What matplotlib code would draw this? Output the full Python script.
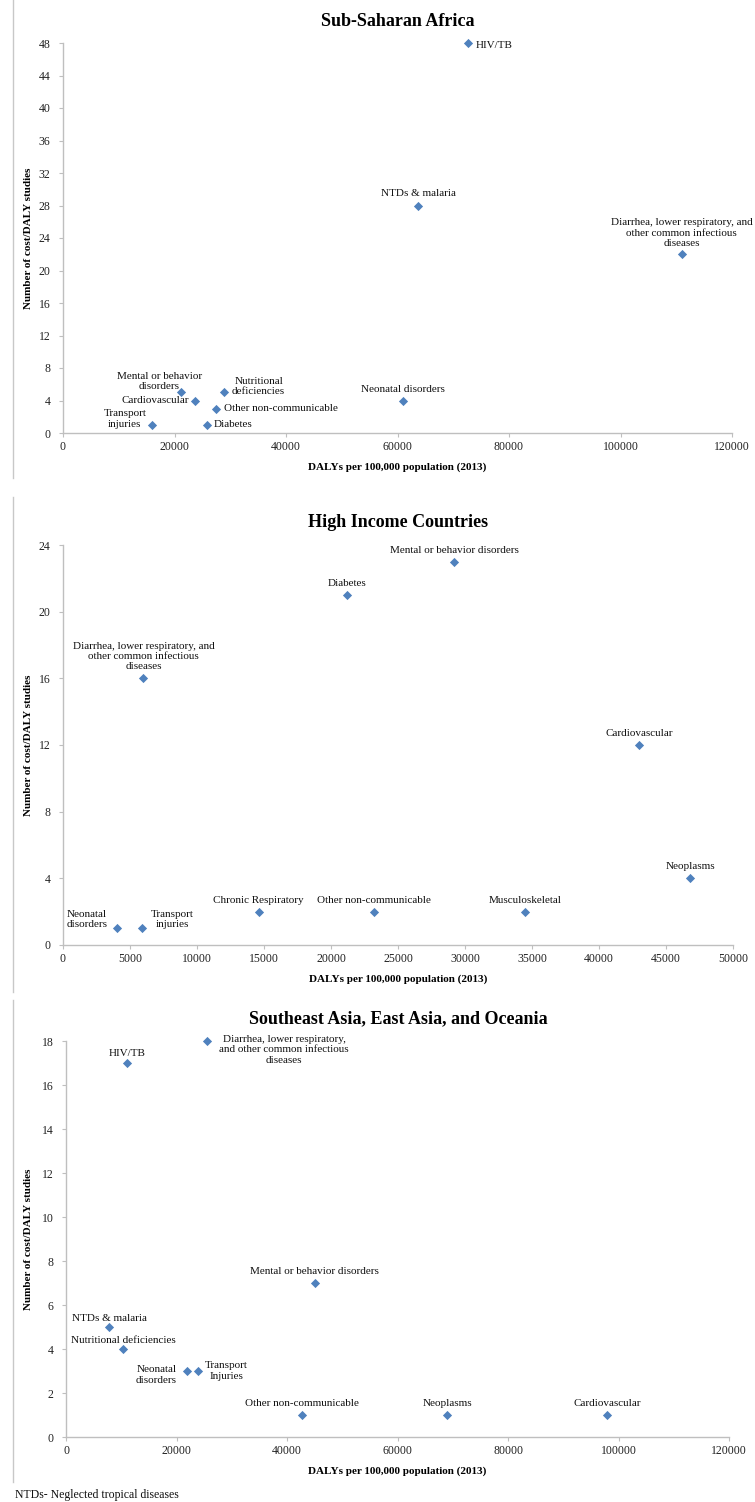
import matplotlib
matplotlib.use("Agg")
import matplotlib.pyplot as plt
from matplotlib.lines import Line2D
from matplotlib.ticker import MultipleLocator, FuncFormatter

plt.rcParams['font.family'] = ['Liberation Serif', 'DejaVu Serif']

# Sub-Saharan Africa
ssa_labels = ["HIV/TB", "NTDs & malaria",
              "Diarrhea, lower respiratory, and\nother common infectious\ndiseases",
              "Neonatal disorders", "Mental or behavior\ndisorders", "Nutritional\ndeficiencies",
              "Cardiovascular", "Other non-communicable", "Transport\ninjuries", "Diabetes"]
ssa_daly = [72600, 63700, 111000, 61000, 21200, 28900, 23700, 27400, 16000, 25900]
ssa_studies = [48, 28, 22, 4, 5, 5, 4, 3, 1, 1]

# High income countries
hic_labels = ["Mental or behavior disorders", "Diabetes",
              "Diarrhea, lower respiratory, and\nother common infectious\ndiseases",
              "Cardiovascular", "Neoplasms", "Chronic Respiratory", "Other non-communicable",
              "Musculoskeletal", "Neonatal\ndisorders", "Transport\ninjuries"]
hic_daly = [29200, 21200, 6000, 43000, 46800, 14600, 23200, 34500, 4000, 5900]
hic_studies = [23, 21, 16, 12, 4, 2, 2, 2, 1, 1]

# Southeast Asia, East Asia, and Oceania
sea_labels = ["HIV/TB", "Diarrhea, lower respiratory,\nand other common infectious\ndiseases",
              "Mental or behavior disorders", "NTDs & malaria", "Nutritional deficiencies",
              "Neonatal\ndisorders", "Transport\nInjuries", "Other non-communicable",
              "Neoplasms", "Cardiovascular"]
sea_daly = [11000, 25600, 45000, 7800, 10300, 21900, 23900, 42700, 69000, 98000]
sea_studies = [17, 18, 7, 5, 4, 3, 3, 1, 1, 1]

# label placement: (dx px, dy px, ha, va)
above = (0, 7, 'center', 'bottom')
ssa_place = [(8, -3, 'left', 'center'), above, (0, 6, 'center', 'bottom'), above,
             (-22, 1, 'center', 'bottom'), (8, 6, 'left', 'center'), (-6, 0, 'right', 'center'),
             (8, 0, 'left', 'center'), (-6, 6, 'right', 'center'), (6, 0, 'left', 'center')]
hic_place = [above] * 8 + [(-9, 9, 'right', 'center'), (9, 9, 'left', 'center')]
sea_place = [(0, 5, 'center', 'bottom'), (12, 6, 'left', 'top'), above,
             (0, 4, 'center', 'bottom'), (0, 4, 'center', 'bottom'),
             (-10, -4, 'right', 'center'), (7, 0, 'left', 'center'), above, above, above]

W, H = 755, 1502
fig = plt.figure(figsize=(W / 100, H / 100), dpi=100)
blue = '#4F81BD'
grey = '#BFBFBF'


def panel(box, title, title_y, xs, ys, labels, place, xmax, xstep, ymax, ystep):
    left, right, top, bottom = box
    ax = fig.add_axes([left / W, 1 - bottom / H, (right - left) / W, (bottom - top) / H])
    ax.scatter(xs, ys, marker='D', s=22, color=blue, linewidths=0, clip_on=False, zorder=3)
    for x, y, lab, (dx, dy, ha, va) in zip(xs, ys, labels, place):
        ax.annotate(lab, (x, y), xytext=(dx, dy), textcoords='offset pixels',
                    ha=ha, va=va, multialignment='center', fontsize=8, color='#111111')
    ax.set_xlim(0, xmax)
    ax.set_ylim(0, ymax)
    ax.xaxis.set_major_locator(MultipleLocator(xstep))
    ax.yaxis.set_major_locator(MultipleLocator(ystep))
    ax.xaxis.set_major_formatter(FuncFormatter(lambda v, p: f"{int(v)}"))
    for s in ['top', 'right']:
        ax.spines[s].set_visible(False)
    for s in ['left', 'bottom']:
        ax.spines[s].set_color(grey)
        ax.spines[s].set_linewidth(1)
    ax.tick_params(axis='x', length=3, width=0.8, color=grey, pad=3, labelsize=8.5, labelcolor='#222222')
    ax.tick_params(axis='y', length=3, width=0.8, color=grey, pad=6, labelsize=8.5, labelcolor='#222222')
    ax.set_xlabel("DALYs per 100,000 population (2013)", fontsize=8, fontweight='bold')
    ax.set_ylabel("Number of cost/DALY studies", fontsize=8, fontweight='bold')
    ax.xaxis.set_label_coords(0.5, -29 / (bottom - top))
    ax.yaxis.set_label_coords((33 - left) / (right - left), 0.5)
    fig.text(398 / W, 1 - title_y / H, title, ha='center', va='center',
             fontsize=13, fontweight='bold')
    return ax


panel((63, 732, 43, 433), "Sub-Saharan Africa", 21, ssa_daly, ssa_studies, ssa_labels,
      ssa_place, 120000, 20000, 48, 4)
panel((63, 733, 545, 945), "High Income Countries", 523, hic_daly, hic_studies, hic_labels,
      hic_place, 50000, 5000, 24, 4)
panel((66, 729, 1041, 1437), "Southeast Asia, East Asia, and Oceania", 1019, sea_daly,
      sea_studies, sea_labels, sea_place, 120000, 20000, 18, 2)

# light frame lines on the left of each chart area
for y0, y1 in [(0, 478), (497, 992), (1000, 1482)]:
    fig.add_artist(Line2D([13 / W, 13 / W], [1 - y0 / H, 1 - y1 / H], color='#C8C8C8', lw=1))

fig.text(15 / W, 1 - 1495 / H, "NTDs- Neglected tropical diseases", ha='left', va='center',
         fontsize=8.5, color='#111111')

fig.savefig("out.png", dpi=100)
